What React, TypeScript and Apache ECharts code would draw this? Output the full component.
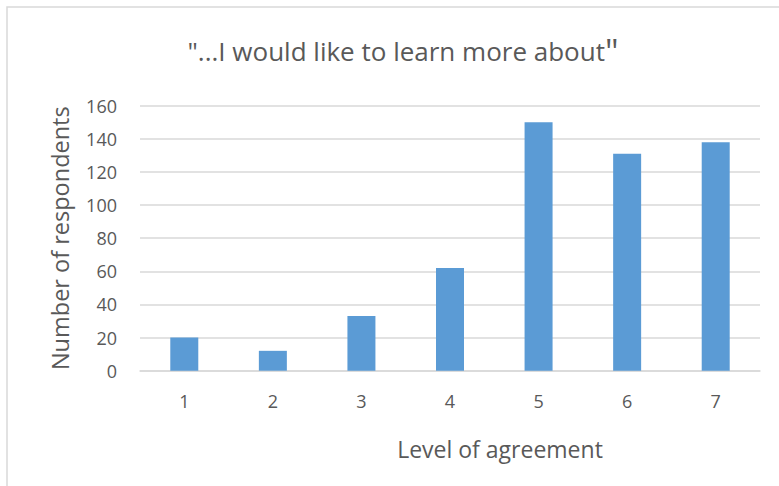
import React, { useEffect, useRef } from "react";
import * as echarts from "echarts";

const categories = ["1", "2", "3", "4", "5", "6", "7"];
const respondents = [20, 12, 33, 62, 150, 131, 138];
const yTicks = { min: 0, max: 160, interval: 20 };

const titleText = "\"...I would like to learn more about";
const titleClose = "\"";
const xAxisName = "Level of agreement";
const yAxisName = "Number of respondents";

const FONT = "'Open Sans', 'Liberation Sans', sans-serif";
const TEXT = "#595959";
const GRID = "#d9d9d9";

export default function App() {
  const ref = useRef<HTMLDivElement>(null);

  useEffect(() => {
    if (!ref.current) return;
    const chart = echarts.init(ref.current, null, { renderer: "svg" });
    chart.setOption({
      animation: false,
      backgroundColor: "#ffffff",
      textStyle: { fontFamily: FONT },
      title: {
        text: `{a|${titleText}}{b|${titleClose}}`,
        left: 398,
        top: 29,
        textAlign: "center",
        textStyle: {
          fontWeight: "normal",
          rich: {
            a: { fontFamily: FONT, fontSize: 26, color: TEXT, fontWeight: "normal" },
            b: { fontFamily: FONT, fontSize: 34, color: TEXT, fontWeight: "normal" },
          },
        },
      },
      graphic: [
        {
          type: "rect",
          shape: { x: 7, y: 7, width: 820, height: 520 },
          style: { fill: "none", stroke: GRID, lineWidth: 1.5 },
          silent: true,
        },
      ],
      grid: { left: 140, right: 19, top: 105.7, bottom: 115.3 },
      xAxis: {
        type: "category",
        data: categories,
        axisLine: { lineStyle: { color: GRID, width: 1.5 } },
        axisTick: { show: false },
        axisLabel: { color: TEXT, fontSize: 18, margin: 21, fontFamily: FONT },
        name: xAxisName,
        nameLocation: "middle",
        nameGap: 67,
        nameTextStyle: { color: TEXT, fontSize: 23, fontFamily: FONT, padding: [0, 0, 0, 100] },
      },
      yAxis: {
        type: "value",
        min: yTicks.min,
        max: yTicks.max,
        interval: yTicks.interval,
        axisLine: { show: false },
        axisTick: { show: false },
        splitLine: { lineStyle: { color: GRID, width: 1.5 } },
        axisLabel: { color: TEXT, fontSize: 18, margin: 23, fontFamily: FONT },
        name: yAxisName,
        nameLocation: "middle",
        nameGap: 68,
        nameRotate: 90,
        nameTextStyle: { color: TEXT, fontSize: 23.5, fontFamily: FONT },
      },
      series: [
        {
          type: "bar",
          data: respondents,
          barWidth: 28,
          itemStyle: { color: "#5b9bd5" },
        },
      ],
    });
    return () => chart.dispose();
  }, []);

  return (
    <div
      ref={ref}
      style={{ position: "fixed", left: 0, top: 0, width: 779, height: 486 }}
    />
  );
}
